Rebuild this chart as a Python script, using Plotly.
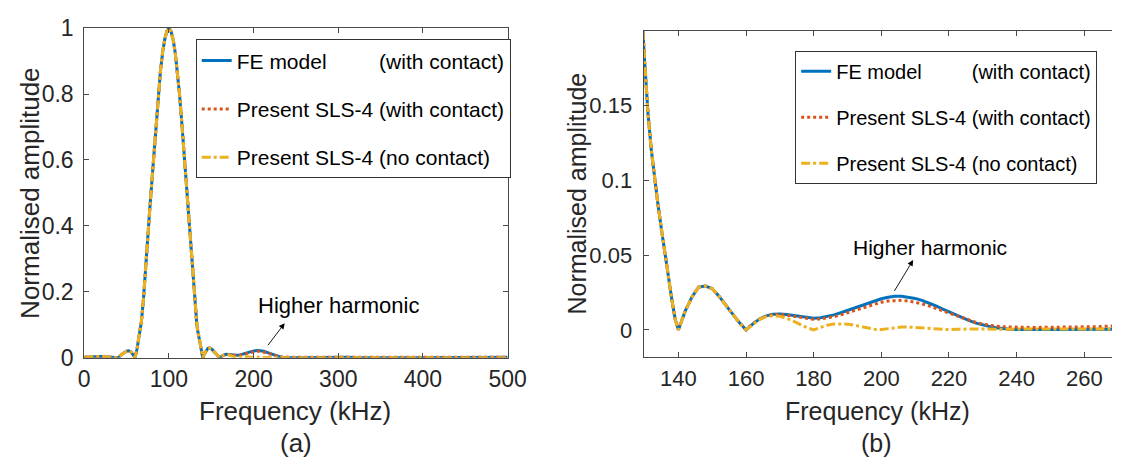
import plotly.graph_objects as go

# Frequency axis shared by all spectra (kHz)
freq_khz = [
    0, 5, 10, 15, 20, 25, 30, 35, 40, 45, 50, 52.5, 55, 57.5,
    60, 62.5, 65, 67.5, 70, 72.5, 75, 77.5, 80, 82.5, 85, 87.5, 90, 92.5, 95, 97.5,
    100, 102.5, 105, 107.5, 110, 112.5, 115, 117.5, 120, 122.5, 125, 127.5,
    130, 131, 132, 133, 134, 135, 136, 137, 138, 139,
    140, 142, 144, 146, 148, 150, 152, 154, 156, 158,
    160, 162, 164, 166, 168, 170, 172, 174, 176, 178,
    180, 182, 184, 186, 188, 190, 192, 194, 196, 198,
    200, 202, 204, 206, 208, 210, 212, 214, 216, 218,
    220, 222, 224, 226, 228, 230, 232, 234, 236, 238,
    240, 242, 244, 246, 248, 250, 252, 254, 256, 258,
    260, 262, 264, 266, 268, 270,
    280, 290, 300, 310, 320, 330, 340, 350, 360, 370, 380, 390,
    400, 410, 420, 430, 440, 450, 460, 470, 480, 490, 500,
]

# Spectrum below 160 kHz is common to the three responses
_common_low = [
    0.002, 0.003, 0.004, 0.004, 0.004, 0.003, 0.002, 0.001, 0.0, 0.012, 0.02, 0.021, 0.018, 0.01,
    0.0, 0.029, 0.067, 0.11, 0.18, 0.28, 0.37, 0.455, 0.54, 0.63, 0.72, 0.80, 0.87, 0.925, 0.965, 0.99,
    1.0, 0.99, 0.965, 0.925, 0.87, 0.80, 0.72, 0.63, 0.54, 0.455, 0.37, 0.28,
    0.18, 0.145, 0.12, 0.1, 0.083, 0.067, 0.051, 0.036, 0.021, 0.0075,
    0.0, 0.0125, 0.022, 0.0286, 0.0293, 0.0275, 0.0225, 0.0165, 0.0105, 0.0048,
]

fe_with_contact = _common_low + [
    0.0, 0.004, 0.0072, 0.0093, 0.0104, 0.0106, 0.0102, 0.0095, 0.0087, 0.008,
    0.0078, 0.0081, 0.0089, 0.01, 0.0114, 0.013, 0.0147, 0.0164, 0.0181, 0.0196,
    0.0208, 0.0218, 0.0224, 0.0224, 0.0219, 0.021, 0.0197, 0.018, 0.0161, 0.014,
    0.0119, 0.0098, 0.0079, 0.0061, 0.0045, 0.0032, 0.0022, 0.0014, 0.0008, 0.0004,
    0.0002, 0.0001, 0.0001, 0.0001, 0.0002, 0.0002, 0.0002, 0.0001, 0.0001, 0.0002,
    0.0002, 0.0003, 0.0003, 0.0002, 0.0002, 0.0002,
    0.0005, 0.0015, 0.003, 0.002, 0.0008, 0.0004, 0.0003, 0.0005, 0.0008, 0.0006, 0.0004, 0.0005,
    0.0008, 0.001, 0.0007, 0.0005, 0.0006, 0.0009, 0.001, 0.0008, 0.001, 0.002, 0.002,
]

sls4_with_contact = _common_low + [
    0.0, 0.004, 0.0072, 0.0092, 0.0102, 0.0103, 0.0098, 0.009, 0.0081, 0.0073,
    0.007, 0.0073, 0.0079, 0.0088, 0.01, 0.0114, 0.0129, 0.0145, 0.016, 0.0174,
    0.0185, 0.0193, 0.0197, 0.0197, 0.0193, 0.0185, 0.0174, 0.016, 0.0144, 0.0127,
    0.011, 0.0093, 0.0077, 0.0062, 0.0049, 0.0038, 0.003, 0.0024, 0.002, 0.0018,
    0.0017, 0.0016, 0.0016, 0.0016, 0.0016, 0.0016, 0.0016, 0.0017, 0.0017, 0.0017,
    0.0018, 0.0019, 0.0021, 0.0023, 0.0025, 0.0026,
    0.0024, 0.0022, 0.0025, 0.0022, 0.0018, 0.0017, 0.0017, 0.0018, 0.0017, 0.0016, 0.0016, 0.0017,
    0.0017, 0.0016, 0.0016, 0.0017, 0.0017, 0.0016, 0.0016, 0.0017, 0.0018, 0.0019, 0.0018,
]

sls4_no_contact = _common_low + [
    0.0, 0.0038, 0.007, 0.0088, 0.0094, 0.009, 0.0077, 0.0058, 0.0036, 0.0014,
    0.0, 0.0017, 0.0031, 0.0039, 0.0041, 0.0038, 0.0031, 0.0021, 0.0011, 0.0003,
    0.0002, 0.0009, 0.0015, 0.0018, 0.0018, 0.0015, 0.0011, 0.0007, 0.0003, 0.0001,
    0.0001, 0.0003, 0.0005, 0.0006, 0.0006, 0.0005, 0.0004, 0.0003, 0.0003, 0.0004,
    0.0005, 0.0005, 0.0004, 0.0003, 0.0003, 0.0004, 0.0005, 0.0004, 0.0003, 0.0002,
    0.0001, 0.0001, 0.0002, 0.0002, 0.0001, 0.0001,
    0.0003, 0.0004, 0.0005, 0.0004, 0.0003, 0.0003, 0.0004, 0.0004, 0.0003, 0.0003, 0.0004, 0.0004,
    0.0003, 0.0003, 0.0004, 0.0004, 0.0003, 0.0003, 0.0004, 0.0004, 0.0003, 0.0004, 0.0004,
]

series_names = [
    "FE model\u00a0\u00a0\u00a0\u00a0\u00a0\u00a0\u00a0\u00a0\u00a0(with contact)",
    "Present SLS-4 (with contact)",
    "Present SLS-4 (no contact)",
]
series_colors = ["#0072BD", "#D95319", "#EDB120"]
series_dash = ["solid", "dot", "dashdot"]

left_xticks = [0, 100, 200, 300, 400, 500]
left_yticks = [0, 0.2, 0.4, 0.6, 0.8, 1]
left_yticktext = ["0", "0.2", "0.4", "0.6", "0.8", "1"]
right_xticks = [140, 160, 180, 200, 220, 240, 260]
right_yticks = [0, 0.05, 0.1, 0.15]
right_yticktext = ["0", "0.05", "0.1", "0.15"]

FONT = "Liberation Sans, Arial, Helvetica, sans-serif"
TXT = "#262626"
AXC = "#4a4a4a"
W, H = 1131, 470

fig = go.Figure()
all_series = [fe_with_contact, sls4_with_contact, sls4_no_contact]
for panel, (xa, ya, leg) in enumerate([("x", "y", "legend"), ("x2", "y2", "legend2")]):
    for i, vals in enumerate(all_series):
        fig.add_trace(go.Scatter(
            x=freq_khz, y=vals, mode="lines", name=series_names[i],
            xaxis=xa, yaxis=ya, legend=leg, legendgroup=f"{leg}-{i}",
            line=dict(color=series_colors[i], width=3, dash=series_dash[i]),
            hoverinfo="skip",
        ))


def px_x(p):
    return p / W


def px_y(p):
    return 1 - p / H


def axis_style(size, **kw):
    d = dict(
        showline=True, linecolor=AXC, linewidth=1, ticks="inside", ticklen=5,
        tickcolor=AXC, tickwidth=1, showgrid=False, zeroline=False,
        tickfont=dict(family=FONT, color=TXT, size=size),
    )
    d.update(kw)
    return d


fig.update_layout(
    width=W, height=H, margin=dict(l=0, r=0, t=0, b=0),
    paper_bgcolor="white", plot_bgcolor="white", showlegend=True,
    xaxis=axis_style(23, domain=[px_x(80), px_x(513)], range=[0, 500], tickvals=left_xticks,
                     mirror="ticks", anchor="y", ticklabelstandoff=1),
    yaxis=axis_style(23, domain=[px_y(365), px_y(16)], range=[0, 1], tickvals=left_yticks,
                     ticktext=left_yticktext, mirror="ticks", anchor="x", ticklabelstandoff=5),
    xaxis2=axis_style(22, domain=[px_x(652), 1.0], range=[129.7, 268.2], tickvals=right_xticks,
                      mirror="ticks", anchor="y2", ticklabelstandoff=1),
    yaxis2=axis_style(22, domain=[px_y(364.3), px_y(19)], range=[-0.0183, 0.2],
                      tickvals=right_yticks, ticktext=right_yticktext, mirror=False,
                      anchor="x2", ticklabelstandoff=6),
    legend=dict(x=px_x(194), y=px_y(28), xanchor="left", yanchor="top",
                bgcolor="white", bordercolor="#333333", borderwidth=1,
                font=dict(family=FONT, size=21, color="black"),
                tracegroupgap=18, itemwidth=30, itemclick=False),
    legend2=dict(x=px_x(807), y=px_y(40), xanchor="left", yanchor="top",
                 bgcolor="white", bordercolor="#333333", borderwidth=1,
                 font=dict(family=FONT, size=20, color="black"),
                 tracegroupgap=17, itemwidth=30, itemclick=False),
)

# Axis titles and panel labels
texts = [
    ("Normalised amplitude", 25, 191, 26, -90),
    ("Normalised amplitude", 584, 191, 25, -90),
    ("Frequency (kHz)", 296, 421, 26, 0),
    ("(a)", 297, 455, 26, 0),
    ("Frequency (kHz)", 891, 421, 25, 0),
    ("(b)", 890, 455, 25, 0),
]
for t, xp, yp, fs, ang in texts:
    fig.add_annotation(text=t, x=px_x(xp), y=px_y(yp), xref="paper", yref="paper",
                       showarrow=False, textangle=ang, xanchor="center", yanchor="middle",
                       font=dict(family=FONT, size=fs, color=TXT))

# "Higher harmonic" call-outs with arrows pointing at the label
callouts = [
    ("x", "y", 300, 0.158, 22, 236.7, 0.105, 215.6, 0.0335),
    ("x2", "y2", 214.4, 0.0551, 21, 209.4, 0.0467, 203.6, 0.025),
]
for xr, yr, tx, ty, fs, hx, hy, tlx, tly in callouts:
    fig.add_annotation(text="Higher harmonic", x=tx, y=ty, xref=xr, yref=yr,
                       showarrow=False, font=dict(family=FONT, size=fs, color="black"))
    fig.add_annotation(text="", x=hx, y=hy, ax=tlx, ay=tly, xref=xr, yref=yr,
                       axref=xr, ayref=yr, showarrow=True, arrowhead=2,
                       arrowsize=1.3, arrowwidth=0.9, arrowcolor="black", standoff=0)

fig.write_html("out.html")
